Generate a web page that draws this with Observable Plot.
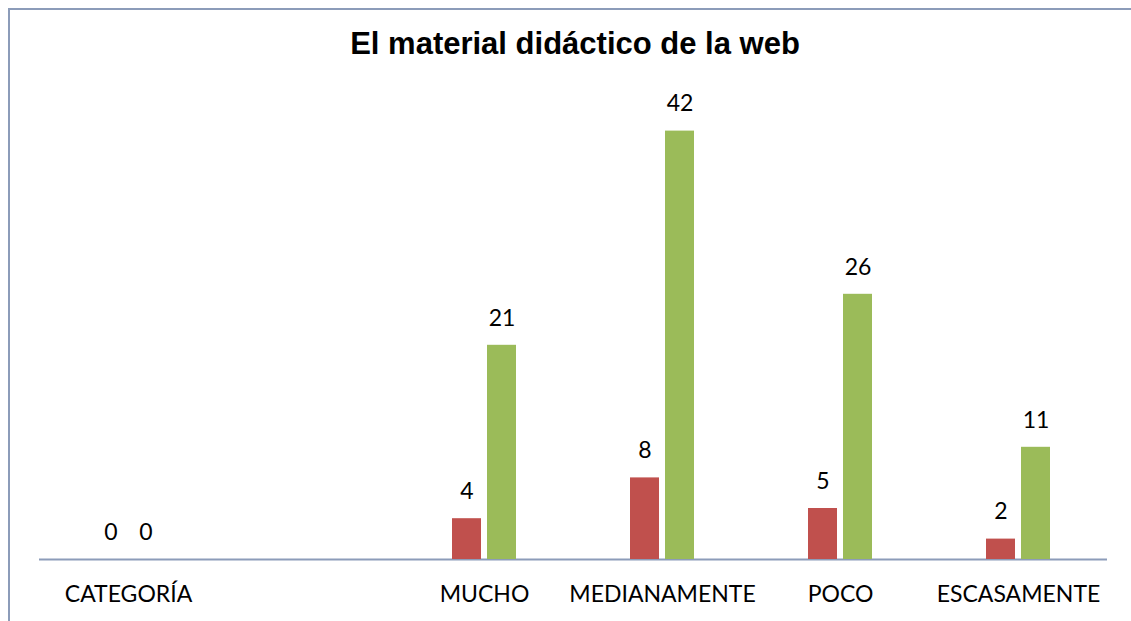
<!DOCTYPE html>
<html><head><meta charset="utf-8">
<script src="https://cdn.jsdelivr.net/npm/d3@7"></script>
<script src="https://cdn.jsdelivr.net/npm/@observablehq/plot@0.6"></script>
<style>
body{margin:0;background:#fff;width:1131px;height:621px;overflow:hidden;position:relative;}
#frame{position:absolute;left:8px;top:8px;width:2000px;height:2000px;border-left:2px solid #8c9cb9;border-top:2px solid #8c9cb9;pointer-events:none}
#title{height:80px;box-sizing:border-box;padding-top:28px;padding-left:19px;text-align:center;font:bold 31px "Liberation Sans",Arial,sans-serif;line-height:31px;color:#000;white-space:nowrap}
#chart svg{display:block}
</style>
</head><body>
<div id="frame"></div>
<div id="title">El material didáctico de la web</div>
<div id="chart"></div>
<script>
const categories = ["CATEGORÍA", "", "MUCHO", "MEDIANAMENTE", "POCO", "ESCASAMENTE"];
const series = ["Serie 1", "Serie 2"];
const values1 = [0, null, 4, 8, 5, 2];
const values2 = [0, null, 21, 42, 26, 11];
const colors = ["#c0504d", "#9bbb59"];

const rows = [];
categories.forEach((c, i) => {
  if (values1[i] != null) rows.push({cat: c, serie: series[0], value: values1[i]});
  if (values2[i] != null) rows.push({cat: c, serie: series[1], value: values2[i]});
});

const chart = Plot.plot({
  width: 1131, height: 541,
  marginLeft: 38, marginRight: 24, marginTop: 20, marginBottom: 62,
  style: {fontFamily: "Lato, sans-serif", fontSize: "23px", color: "#000", background: "transparent", overflow: "visible"},
  fx: {domain: categories, padding: 0, label: null},
  x: {domain: series, paddingInner: 0.183, paddingOuter: 1.6, axis: null},
  y: {domain: [0, 45], axis: null},
  color: {domain: series, range: colors},
  marks: [
    Plot.ruleY(categories, {fx: d => d, y: () => 0, stroke: "#8c9cb9", strokeWidth: 2}),
    Plot.barY(rows, {fx: "cat", x: "serie", y: "value", fill: "serie"}),
    Plot.text(rows, {fx: "cat", x: "serie", y: "value", text: d => String(d.value), dy: -27, fill: "#000", fontSize: 23}),
    Plot.axisFx({anchor: "bottom", tickSize: 0, tickPadding: 26, label: null, fontSize: 23})
  ]
});
document.getElementById("chart").appendChild(chart);
</script>
</body></html>
